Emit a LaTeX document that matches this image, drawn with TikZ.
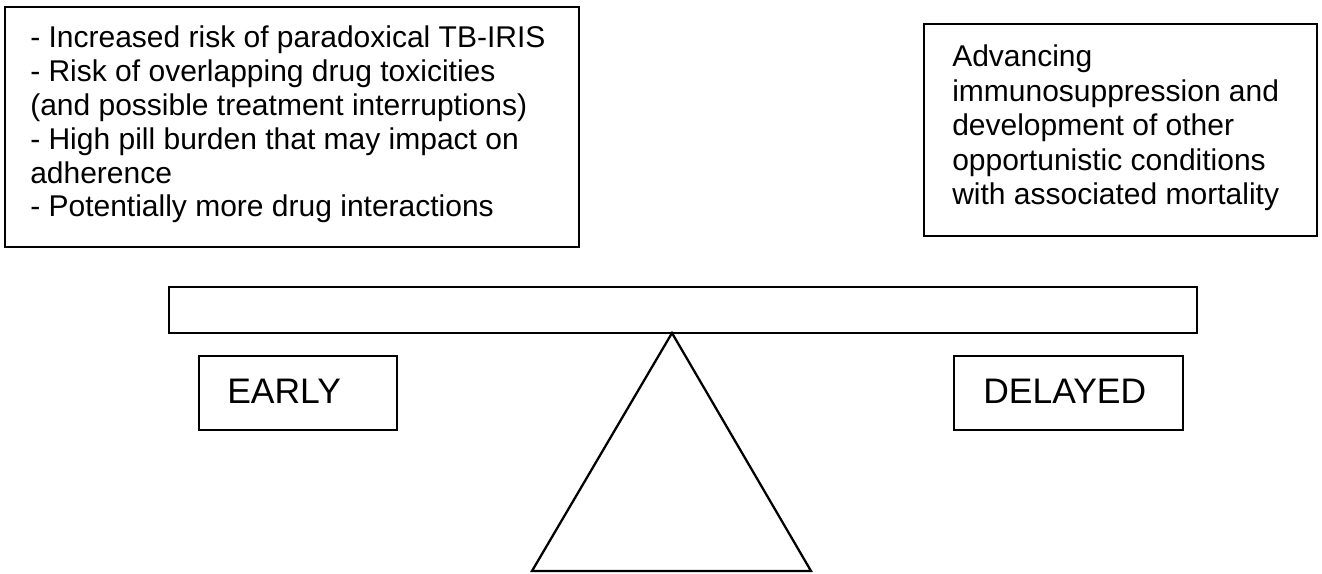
\documentclass[tikz,border=0pt]{standalone}
\usepackage{fontspec}
\setmainfont{Liberation Sans}
\begin{document}
\begin{tikzpicture}[x=0.75pt,y=-0.75pt,
  frame/.style={draw=black,line width=1.7pt,fill=white},
  small/.style={font=\fontsize{22.5}{26}\selectfont,anchor=base west,inner sep=0pt},
  big/.style={font=\fontsize{26.6}{30}\selectfont,anchor=base west,inner sep=0pt}]
\useasboundingbox (0,0) rectangle (1322,574);
% left box
\draw[frame] (5,7) rectangle (579,247);
\node[small] (l1) at (30,48) {- Increased risk of paradoxical TB-IRIS};
\node[small] (l2) at (30,81.8) {- Risk of overlapping drug toxicities};
\node[small] (l3) at (30,115.6) {(and possible treatment interruptions)};
\node[small] (l4) at (30,149.4) {- High pill burden that may impact on};
\node[small] (l5) at (30,183.2) {adherence};
\node[small] (l6) at (30,217) {- Potentially more drug interactions};
% right box
\draw[frame] (924,24) rectangle (1317,236);
\node[small] (r1) at (952,67) {Advancing};
\node[small] (r2) at (952,101.5) {immunosuppression and};
\node[small] (r3) at (952,136) {development of other};
\node[small] (r4) at (952,170.5) {opportunistic conditions};
\node[small] (r5) at (952,205) {with associated mortality};
% beam and fulcrum
\draw[frame] (169,287) rectangle (1197,333);
\coordinate (apex) at (672,333);
\coordinate (bl) at (532,571);
\coordinate (br) at (811,571);
\draw[frame,line join=miter] (apex) -- (bl) -- (br) -- cycle;
% early / delayed
\draw[frame] (199,356) rectangle (397,430);
\node[big] (early) at (227,403) {EARLY};
\draw[frame] (954,356) rectangle (1183,430);
\node[big] (delayed) at (983,403) {DELAYED};
\end{tikzpicture}
\end{document}
